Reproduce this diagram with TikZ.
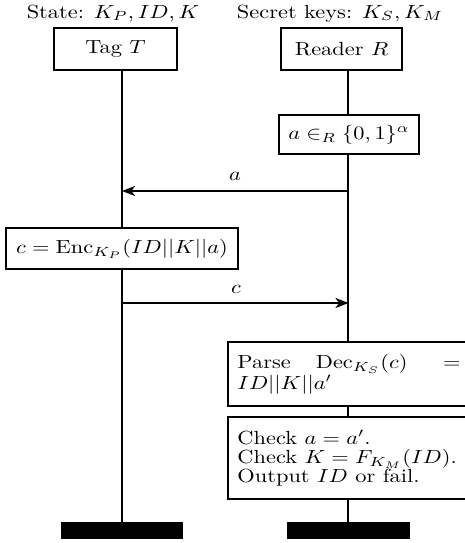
\documentclass[tikz,border=0pt]{standalone}
\usepackage{graphicx}
\usetikzlibrary{arrows.meta}
\newcommand{\sx}[1]{\scalebox{1.12}[0.95]{#1}}
\tikzset{
  box/.style={draw, line width=1pt, fill=white, inner sep=0pt},
  life/.style={line width=1pt},
  msg/.style={line width=1pt, -{Stealth[length=6.5pt,width=5pt,inset=1.8pt]}},
  bar/.style={fill=black, inner sep=0pt, minimum width=61pt, minimum height=8.5pt},
  lbl/.style={inner sep=0pt, anchor=base}
}
\begin{document}
\begin{tikzpicture}[x=0.5pt,y=-0.5pt]
\clip (0,0) rectangle (465,543);
\node[lbl] (state) at (113,18) {\sx{State: $K_P, ID, K$}};
\node[lbl] (secret) at (340,18) {\sx{Secret keys: $K_S, K_M$}};
\node[bar] (lbar) at (122,530.5) {};
\node[bar, minimum width=61.5pt] (rbar) at (348.5,530.5) {};
\node[box, minimum width=61.5pt, minimum height=21pt] (tag) at (115.5,49) {\sx{Tag $T$}};
\node[box, minimum width=60.5pt, minimum height=21pt] (reader) at (341.5,49) {\sx{Reader $R$}};
\draw[life] (tag.south -| lbar) -- (lbar.north);
\draw[life] (reader.south -| rbar) -- (rbar.north);
\node[box, minimum width=70pt, minimum height=19.5pt] (gen) at (349,134.5) {\sx{$a \in_R \{0,1\}^\alpha$}};
\path (rbar |- 0,191) coordinate (am);
\draw[msg] (am) -- (am -| lbar);
\node[lbl] (alab) at (235,180) {\sx{$a$}};
\node[box, minimum width=116pt, minimum height=20.5pt] (enc) at (122,248.5) {\sx{$c = \mathrm{Enc}_{K_P}(ID||K||a)$}};
\path (lbar |- 0,303) coordinate (cm);
\draw[msg] (cm) -- (cm -| rbar);
\node[lbl] (clab) at (236,293) {\sx{$c$}};
\node[box, minimum width=120.5pt, minimum height=32pt] (parse) at (349,374) {\sx{\parbox{3.5cm}{\fontsize{10}{10}\selectfont Parse $\mathrm{Dec}_{K_S}(c) = ID||K||a'$}}};
\node[box, minimum width=120.5pt, minimum height=41pt] (check) at (349,458) {\sx{\parbox{3.5cm}{\fontsize{10}{10}\selectfont Check $a = a'$.\\ Check $K = F_{K_M}(ID)$.\\ Output $ID$ or fail.}}};
\end{tikzpicture}
\end{document}
